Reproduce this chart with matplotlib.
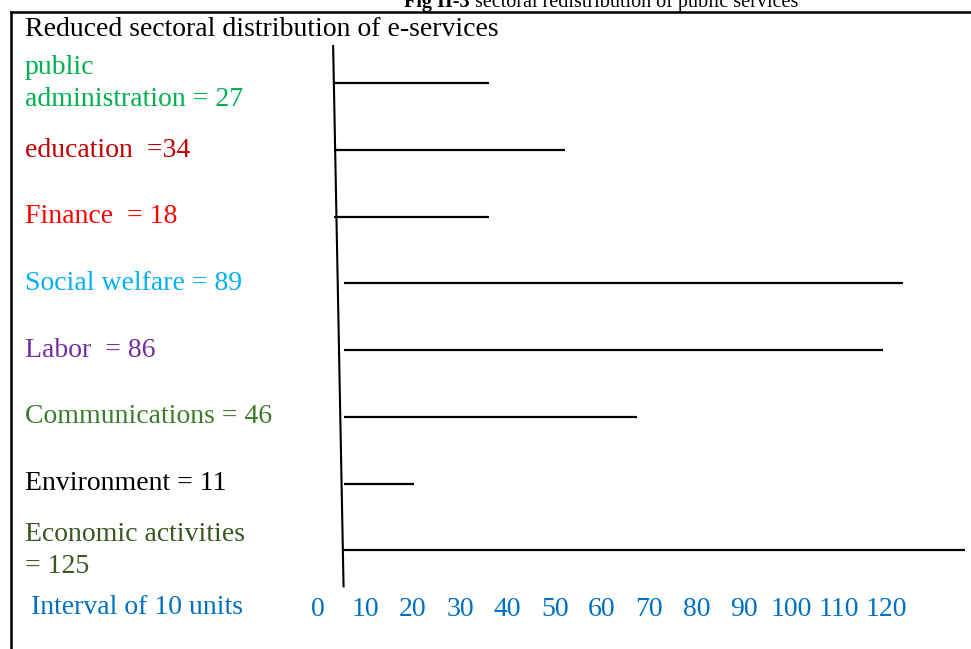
import matplotlib
matplotlib.use("Agg")
import matplotlib.pyplot as plt
from matplotlib.lines import Line2D
from matplotlib.transforms import blended_transform_factory

plt.rcParams['font.family'] = ['Liberation Serif', 'DejaVu Serif']

# sectors, the values written in the labels, and the line lengths as drawn
sectors = ["public\nadministration", "education", "Finance", "Social welfare",
           "Labor", "Communications", "Environment", "Economic activities"]
separators = [" = ", "  =", "  = ", " = ", "  = ", " = ", " = ", "\n= "]
values = [27, 34, 18, 89, 86, 46, 11, 125]
line_starts = [3.4, 3.4, 3.4, 5.5, 5.5, 5.5, 5.5, 5.5]
line_ends = [36.1, 52.2, 36.1, 123.5, 119.3, 67.3, 20.3, 136.7]
colors = ["#00B050", "#C00000", "#FF0000", "#00B0F0",
          "#7030A0", "#3C7D2C", "#000000", "#385723"]
ticks = list(range(0, 121, 10))

W, H = 971, 649
fig = plt.figure(figsize=(W / 100, H / 100), dpi=100)

# axes: x=0 at px 318, x=120 at px 886; rows spaced ~67 px from px 83
ax = fig.add_axes([318 / W, 1 - 586.3 / H, 568 / W, 540.3 / H])
ax.set_xlim(0, 120)
ax.set_ylim(7.54, -0.56)
for s in ax.spines.values():
    s.set_visible(False)
ax.set_yticks([])
ax.set_xticks(ticks)
ax.set_xticklabels([str(t) for t in ticks])
ax.tick_params(axis='x', length=0, pad=8, labelsize=20, labelcolor="#0070C0")

# hand-drawn, slightly slanted vertical axis
ylo, yhi = ax.get_ylim()
ax.plot([5.4, 3.2], [ylo, yhi], color="black", lw=1.5, clip_on=False)

rows = range(len(sectors))
for i in rows:
    ax.plot([line_starts[i], line_ends[i]], [i, i], color="black", lw=1.6,
            clip_on=False, solid_capstyle='butt')

trans = blended_transform_factory(fig.transFigure, ax.transData)
for i in rows:
    ax.text(25 / W, i, sectors[i] + separators[i] + str(values[i]),
            transform=trans, ha='left', va='center', fontsize=20,
            color=colors[i], linespacing=1.35)

fig.text(25 / W, 1 - 30 / H, "Reduced sectoral distribution of e-services",
         ha='left', va='center', fontsize=20, color="black")
fig.text(31 / W, 1 - 608 / H, "Interval of 10 units", ha='left', va='center',
         fontsize=20, color="#0070C0")

# caption cut off at the top edge, as in the source page
fig.text(470 / W, 1 - 7 / H, "Fig II-3", ha='right', va='baseline',
         fontsize=14.5, fontweight='bold', color="black")
fig.text(470 / W, 1 - 7 / H, " sectoral redistribution of public services",
         ha='left', va='baseline', fontsize=14.5, color="black")

# page frame
fig.add_artist(Line2D([10.5 / W, 10.5 / W], [0, 1 - 12 / H], transform=fig.transFigure,
                      color="black", lw=1.8))
fig.add_artist(Line2D([10.5 / W, 1], [1 - 12 / H, 1 - 12 / H], transform=fig.transFigure,
                      color="black", lw=1.8))

fig.savefig("out.png", dpi=100)
